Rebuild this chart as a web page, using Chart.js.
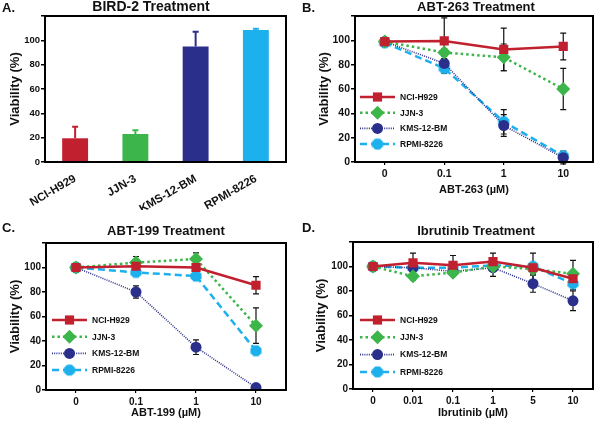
<!DOCTYPE html>
<html>
<head>
<meta charset="utf-8">
<script src="https://cdn.jsdelivr.net/npm/chart.js@4.4.1/dist/chart.umd.min.js"></script>
<style>
  html, body { margin: 0; padding: 0; background: #fff; }
  #wrap { position: relative; width: 600px; height: 421px; overflow: hidden; }
  canvas { position: absolute; }
</style>
</head>
<body>
<div id="wrap">
  <canvas id="cA" width="300" height="210" style="left:0;top:0"></canvas>
  <canvas id="cB" width="300" height="210" style="left:300px;top:0"></canvas>
  <canvas id="cC" width="300" height="211" style="left:0;top:210px"></canvas>
  <canvas id="cD" width="300" height="211" style="left:300px;top:210px"></canvas>
</div>
<script>
// cell lines
const cellLines = ["NCI-H929", "JJN-3", "KMS-12-BM", "RPMI-8226"]
const lineColors = ["#c1202f", "#3cb54a", "#2b2f8c", "#1cb1ec"]

// A. BIRD-2 (bar + upper error)
const birdValues = [19.5, 23, 95, 108.5]
const birdErr = [9.5, 3, 12, 1]

// B. ABT-263
const abt263Doses = ["0", "0.1", "1", "10"]
const abt263NCI = [99, 99.5, 92.5, 95]
const abt263JJN = [99, 90, 86, 60]
const abt263KMS = [99, 81, 30, 3.5]
const abt263RPMI = [98, 77, 33, 5]
const abt263NCIerr = [1, 19, 17.5, 11]
const abt263JJNerr = [1, 3, 11, 17]
const abt263KMSerr = [1, 4, 9, 5]
const abt263RPMIerr = [1, 4, 10, 4]

// C. ABT-199
const abt199Doses = ["0", "0.1", "1", "10"]
const abt199NCI = [100, 101, 100, 85.5]
const abt199JJN = [100, 104, 107, 52.5]
const abt199KMS = [100, 80, 35, 2]
const abt199RPMI = [100, 96, 93, 32]
const abt199NCIerr = [1, 2, 2, 7]
const abt199JJNerr = [1, 5, 5, 14.5]
const abt199KMSerr = [1, 5, 6, 1]
const abt199RPMIerr = [1, 3, 2, 3]

// D. Ibrutinib
const ibrDoses = ["0", "0.01", "0.1", "1", "5", "10"]
const ibrNCI = [100, 103, 101, 104, 99, 90]
const ibrJJN = [100, 92, 95, 100, 98, 94]
const ibrKMS = [100, 99, 96, 99, 86, 72]
const ibrRPMI = [100, 99, 99, 101, 100, 86]
const ibrNCIerr = [1, 8, 8, 7, 12, 4]
const ibrJJNerr = [1, 3, 3, 2, 4, 11]
const ibrKMSerr = [1, 2, 3, 7, 7, 8]
const ibrRPMIerr = [1, 2, 2, 2, 2, 5]

const FONT = "'Liberation Sans', Arial, Helvetica, sans-serif"

// octagon marker for RPMI-8226
function octagon(r, color) {
    const c = document.createElement("canvas")
    const s = Math.ceil(r * 2 + 2)
    c.width = s; c.height = s
    const g = c.getContext("2d")
    g.fillStyle = color
    g.beginPath()
    for (let i = 0; i < 8; i++) {
        const a = Math.PI / 8 + i * Math.PI / 4
        const px = s / 2 + r * Math.cos(a), py = s / 2 + r * Math.sin(a)
        if (i == 0) g.moveTo(px, py); else g.lineTo(px, py)
    }
    g.closePath()
    g.fill()
    return c
}
const octImg = octagon(6, lineColors[3])

const lineStyles = [
    {borderDash: [], borderWidth: 2.5, pointStyle: "rect", pointRadius: 6.5},
    {borderDash: [2.5, 3], borderWidth: 2.5, pointStyle: "rectRot", pointRadius: 7},
    {borderDash: [1, 1.2], borderWidth: 1.6, pointStyle: "circle", pointRadius: 5.5},
    {borderDash: [7, 4], borderWidth: 2.5, pointStyle: octImg, pointRadius: 6}
]

function drawMarker(ctx, i, x, y) {
    const st = lineStyles[i]
    ctx.fillStyle = lineColors[i]
    ctx.beginPath()
    if (i == 0) {
        const h = st.pointRadius * Math.SQRT1_2
        ctx.rect(x - h, y - h, 2 * h, 2 * h)
    } else if (i == 1) {
        const r = st.pointRadius
        ctx.moveTo(x - r, y); ctx.lineTo(x, y - r); ctx.lineTo(x + r, y); ctx.lineTo(x, y + r)
        ctx.closePath()
    } else if (i == 2) {
        ctx.arc(x, y, st.pointRadius, 0, Math.PI * 2)
    }
    ctx.fill()
    if (i == 3) ctx.drawImage(octImg, x - octImg.width / 2, y - octImg.height / 2)
}

// box, error bars, titles, inside legend
const panelPlugin = {
    id: "panelDeco",
    beforeDatasetsDraw(chart) {
        const ctx = chart.ctx
        const y = chart.scales.y
        chart.data.datasets.forEach((ds, di) => {
            if (!ds.err) return
            const meta = chart.getDatasetMeta(di)
            ctx.save()
            ctx.lineWidth = ds.errWidth || 1.2
            ctx.setLineDash([])
            meta.data.forEach((el, k) => {
                const v = ds.data[k], e = ds.err[k]
                const x = el.x
                const top = y.getPixelForValue(v + e)
                const bot = ds.upOnly ? y.getPixelForValue(v) : y.getPixelForValue(v - e)
                const cap = ds.capW || 3
                ctx.strokeStyle = Array.isArray(ds.errColor) ? ds.errColor[k] : (ds.errColor || "#111")
                ctx.beginPath()
                ctx.moveTo(x, top); ctx.lineTo(x, bot)
                ctx.moveTo(x - cap, top); ctx.lineTo(x + cap, top)
                if (!ds.upOnly) { ctx.moveTo(x - cap, bot); ctx.lineTo(x + cap, bot) }
                ctx.stroke()
            })
            ctx.restore()
        })
    },
    afterDraw(chart, args, opts) {
        const ctx = chart.ctx
        const a = chart.chartArea
        ctx.save()
        ctx.strokeStyle = "#000"
        ctx.lineWidth = 2
        ctx.strokeRect(a.left, a.top, a.right - a.left, a.bottom - a.top)
        ctx.fillStyle = "#111"
        ctx.textBaseline = "middle"
        ctx.font = "bold 13px " + FONT
        ctx.textAlign = "left"
        ctx.fillText(opts.letter, opts.letterX, opts.letterY)
        ctx.textAlign = "center"
        ctx.font = "bold " + opts.titleSize + "px " + FONT
        ctx.fillText(opts.title, opts.titleX, opts.titleY)
        if (opts.legend) {
            const L = opts.legend
            cellLines.forEach((name, i) => {
                const yy = L.y + i * L.step
                const st = lineStyles[i]
                ctx.strokeStyle = lineColors[i]
                ctx.lineWidth = st.borderWidth
                ctx.setLineDash(st.borderDash)
                ctx.beginPath()
                ctx.moveTo(L.x, yy); ctx.lineTo(L.x + 35, yy)
                ctx.stroke()
                ctx.setLineDash([])
                drawMarker(ctx, i, L.x + 17.5, yy)
                ctx.fillStyle = "#111"
                ctx.textAlign = "left"
                ctx.font = "bold 8.5px " + FONT
                ctx.fillText(name, L.x + 40, yy + 0.5)
            })
        }
        ctx.restore()
    }
}

function yScale(w, titlePad, tickSize) {
    return {
        min: 0, max: 120,
        afterFit: s => { s.width = w },
        border: {display: false},
        grid: {drawOnChartArea: false, drawTicks: true, tickLength: 4, color: "#000", lineWidth: 1.5},
        ticks: {
            stepSize: 20, padding: 1, color: "#111",
            font: {family: FONT, weight: "bold", size: tickSize},
            callback: v => v > 100 ? "" : v
        },
        title: {display: true, text: "Viability (%)", color: "#111",
            font: {family: FONT, weight: "bold", size: 13}, padding: {top: titlePad, bottom: 0}}
    }
}

function xScale(h, title, titlePad, tickSize) {
    return {
        offset: true,
        afterFit: s => { s.height = h },
        border: {display: false},
        grid: {drawOnChartArea: false, drawTicks: true, tickLength: 3, color: "#000", lineWidth: 1.2},
        ticks: {color: "#111", padding: 3, maxRotation: 0, autoSkip: false,
            font: {family: FONT, weight: "bold", size: tickSize}},
        title: {display: true, text: title, color: "#111",
            font: {family: FONT, weight: "bold", size: 11}, padding: {top: 0, bottom: titlePad}}
    }
}

function lineSets(series, errs) {
    return series.map((d, i) => ({
        label: cellLines[i],
        data: d,
        err: errs[i],
        borderColor: lineColors[i],
        backgroundColor: lineColors[i],
        pointBackgroundColor: lineColors[i],
        pointBorderColor: lineColors[i],
        pointBorderWidth: 0,
        borderDash: lineStyles[i].borderDash,
        borderWidth: lineStyles[i].borderWidth,
        pointStyle: lineStyles[i].pointStyle,
        pointRadius: lineStyles[i].pointRadius,
        tension: 0
    }))
}

function linePanel(id, labels, series, errs, o) {
    new Chart(document.getElementById(id), {
        type: "line",
        data: {labels: labels, datasets: lineSets(series, errs)},
        options: {
            responsive: false, animation: false,
            layout: {padding: {left: 0, right: o.right, top: o.top, bottom: 0}},
            plugins: {
                legend: {display: false}, tooltip: {enabled: false},
                panelDeco: o.deco
            },
            scales: {
                x: xScale(o.xh, o.xTitle, o.xTitlePad, o.tick),
                y: yScale(o.yw, o.yTitlePad, o.tick)
            }
        },
        plugins: [panelPlugin]
    })
}

// A. bar chart
new Chart(document.getElementById("cA"), {
    type: "bar",
    data: {
        labels: cellLines,
        datasets: [{
            data: birdValues,
            err: birdErr,
            upOnly: true,
            errColor: lineColors,
            errWidth: 2,
            backgroundColor: lineColors,
            barPercentage: 0.86,
            categoryPercentage: 0.5
        }]
    },
    options: {
        responsive: false, animation: false,
        layout: {padding: {left: 0, right: 14, top: 16, bottom: 0}},
        plugins: {
            legend: {display: false}, tooltip: {enabled: false},
            panelDeco: {letter: "A.", letterX: 2, letterY: 8, title: "BIRD-2 Treatment",
                titleX: 151, titleY: 7, titleSize: 14}
        },
        scales: {
            x: {
                afterFit: s => { s.height = 48 },
                border: {display: false},
                grid: {display: false},
                ticks: {color: "#111", padding: 2, minRotation: 30, maxRotation: 30, autoSkip: false,
                    font: {family: FONT, weight: "bold", size: 11.5}}
            },
            y: yScale(45, 8, 9.5)
        }
    },
    plugins: [panelPlugin]
})

linePanel("cB", abt263Doses, [abt263NCI, abt263JJN, abt263KMS, abt263RPMI],
    [abt263NCIerr, abt263JJNerr, abt263KMSerr, abt263RPMIerr], {
        right: 2, top: 16, xh: 48, yw: 55, xTitle: "ABT-263 (µM)", xTitlePad: 13, yTitlePad: 17, tick: 10.5,
        deco: {letter: "B.", letterX: 2, letterY: 8, title: "ABT-263 Treatment", titleX: 176, titleY: 7,
            titleSize: 13, legend: {x: 60, y: 97, step: 15.7}}
    })

linePanel("cC", abt199Doses, [abt199NCI, abt199JJN, abt199KMS, abt199RPMI],
    [abt199NCIerr, abt199JJNerr, abt199KMSerr, abt199RPMIerr], {
        right: 14, top: 33, xh: 31, yw: 46, xTitle: "ABT-199 (µM)", xTitlePad: 1, yTitlePad: 8, tick: 10,
        deco: {letter: "C.", letterX: 2, letterY: 18, title: "ABT-199 Treatment", titleX: 166, titleY: 21,
            titleSize: 13, legend: {x: 52, y: 110, step: 16.7}}
    })

linePanel("cD", ibrDoses, [ibrNCI, ibrJJN, ibrKMS, ibrRPMI],
    [ibrNCIerr, ibrJJNerr, ibrKMSerr, ibrRPMIerr], {
        right: 2, top: 32, xh: 32, yw: 53, xTitle: "Ibrutinib (µM)", xTitlePad: 1, yTitlePad: 14, tick: 10,
        deco: {letter: "D.", letterX: 2, letterY: 18, title: "Ibrutinib Treatment", titleX: 176, titleY: 21,
            titleSize: 13, legend: {x: 60, y: 110, step: 17.3}}
    })
</script>
</body>
</html>
